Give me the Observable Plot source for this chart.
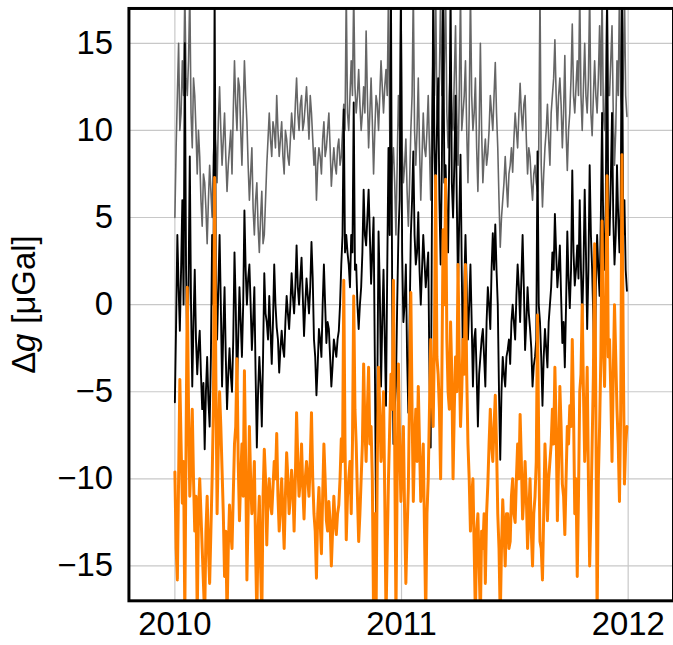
<!DOCTYPE html>
<html>
<head>
<meta charset="utf-8">
<script src="https://cdn.jsdelivr.net/npm/d3@7"></script>
<script src="https://cdn.jsdelivr.net/npm/@observablehq/plot@0.6"></script>
<style>
  html, body { margin: 0; padding: 0; background: #fff; overflow: hidden; }
  #chart svg { display: block; }
</style>
</head>
<body>
<div id="chart"></div>
<script>
// Sampling grid of the series (every 2 days from the start date)
const startDate = "2010-01-01";
const stepDays = 2;

// Δg values [μGal] (values beyond ±17 are clipped spikes)
const grayValues = [
  5,9, 12,15, 10,11, 14,12, 18,13,
  12,14, 18,11, 9,13, 12,10, 7.5,10,
  8.5,6, 4.5,7.5, 7,5.5, 3.5,6, 8,6.5,
  5,8.5, 10,9, 7,10.5, 12.5,10, 8,9.5,
  11,8.5, 6.5,8, 9,10, 7.5,11, 14,11.5,
  10,13, 12.5,10, 8,11, 14,12, 10.5,8,
  6,7.5, 9,5.5, 4,6, 7,4.5, 3,5,
  6.5,3.5, 4,6, 8,9.5, 11,9.5, 8.5,10.5,
  10,9, 12,10, 8.5,9.5, 10.5,8.5, 7.5,10,
  9.5,8.5, 8,9.5, 11,10, 9.5,11.5, 13,11,
  10,11.5, 12,10, 10.5,11.5, 12.5,11, 9.5,12,
  11,9.5, 8,9, 6,8, 9,8.5, 7.5,9.5,
  10.5,8.5, 9,10, 11,9, 6.8,8, 9,8,
  7.5,9, 9.5,8, 8.5,10, 11.5,10, 18,11,
  10,12, 14,12, 18,12.5, 11,12, 13.5,11.5,
  10,11, 12.5,11, 15.7,12, 9,11, 13,10.5,
  7.5,10, 12,11.5, 10,12, 14,12.5, 11,12.5,
  13.5,12, 18,10, 6,8, 9,7, 4,8,
  12,10, 18,9, 7,8, 9.5,6.5, 4.5,7,
  10,12, 18,10, 8,10, 13,9, 6,8.5,
  11,9, 8.5,10, 12,9, 6,11, 15,12,
  18,11, 10,13, 18,12, 12,14, 18,11,
  9,12, 14,11, 10,13, 16,11, 8,12,
  18,10, 11,12, 14,10, 7,11, 18,12,
  10,11, 13,9, 6.5,10, 15,10, 7,8.5,
  9.5,8, 8.7,10, 12,11, 10,12, 13.9,11,
  9,6, 3.3,5, 6,7, 8.5,7, 5.6,7.5,
  8,9, 7.6,9.5, 11,10, 9,11, 12.7,11,
  10,11.5, 12,9.5, 7.5,9, 8.5,7, 6,7.5,
  8,7, 6.5,9, 18,8, 5.6,7.5, 9,10,
  11.5,9.5, 8,11, 12,13, 15.2,12, 10,12,
  13,11.5, 9,11, 14.3,10, 7.7,10, 11,13,
  16.1,12, 11,12.5, 14,12, 18,12, 10,12.5,
  15,12, 11,13, 18,11, 9.7,12, 14,12,
  11,13, 16,12, 18,11, 10,13, 18,12,
  12,14, 16,11, 8,10, 14,12, 18,12,
  11,13, 18,12,
  10.8
];
const blackValues = [
  -5.6,-1, 4,1, -1.5,2, 6,0, 15,2,
  -3,1, 8.5,0, -4.7,-1, 2,-2, -4,-2.5,
  -1.5,-4, -6,-4.5, -8.3,-5, -3,-5.5, -7,-3,
  4,0, 18,2, -2,1, 4,0, -4.7,-1.5,
  1,-3, -6,-4, -2.5,-4, -5,-2, 3,0,
  -4.7,-2, 1,-1, -3,0, 5.4,2, 0,1.5,
  2.3,0, -2.6,-1, 1,-4, -8.2,-5, -3,-4.5,
  -7,-3, 1.8,-0.5, -1,-2, 0.5,-1.5, -3.4,-1,
  2.3,0, -1.3,-2, -3.9,-2.5, -1.5,-2.5, -3,-1,
  0.5,-0.5, -1.4,0, 1.8,0.5, -0.5,1, 3.4,1,
  0,1.5, 2.7,0.5, -1.8,0, 1.5,0.5, -0.5,1,
  3.6,1.5, -2,-3, -5.2,-3.5, -1.4,-2, -3,0,
  2.3,0, -2.2,-1, -1.4,-3, -4.7,-3.5, -2,-2.5,
  -3,-2, -1.5,0, 2.3,4, 11.2,3, 4,3,
  2.3,1, 4,3, 11.6,2, 2.3,0, -1.4,0,
  1,3, 6.6,4, 3.4,5, 6.6,4, 1.2,3,
  5,-3, -12.4,-5, 4.2,1, -4.7,-1, 2,-2,
  -5.8,2, 9,4, 18,0, -8,-6, -4.7,0,
  4,6, 18,3, -1,0, 2.3,-3, -6.2,-1,
  4,6, 8.8,4, 2.3,3, 5.3,2, 0,2,
  4,2.5, 1,2, 3,-4, -8.2,5, 18,9,
  6,10, 13,6, 2.3,8, 18,7, 8,5,
  3,9, 18,7, 5,8, 12,6, 1,5,
  8.6,2, -3.6,1, 4,1, -2,0, 2.3,-1,
  -4.7,-2, -1.4,-4, -7,-4, -3,-2, -1.4,-3,
  -4.7,-1, 1,0, -1.4,2, 4.1,2, 4.6,2,
  0,-5, -8.9,-5, -3,-4, -4.7,-3, -2.6,-2,
  -3.4,-1, 0,-1, -2,0.5, 2.3,1, -1,1.5,
  4,1, -2.6,-1, 1,-0.5, -1.4,-2.5, -4.7,-3.5,
  -3,-2, 8.8,0, -1,-3, -5.8,-3, -1.4,-2.5,
  -3.6,-1, 0,1, 3,2, 5.2,3, 1,2,
  3.4,0.5, -2.2,-1, -3.6,0, 4.2,1.5, -0.2,2,
  7.7,3, 1.1,2, 3.4,1.5, 6,2, -0.8,2,
  6.6,3, -1.4,2, 8,4, 2,-1, -5.8,1,
  4,2, 0.5,5, 11,4, 2,6, 18,5,
  4,7, 11,5, 2.3,4, 8,5, 3,6,
  18,4, 6,2,
  0.8
];
const orangeValues = [
  -9.6,-14, -15.8,-10, -4.3,-8, -11.4,-9, -18,-8,
  1,-6, -11,-9, -6,-10, -13,-11, -18,-12,
  -10,-12, -14,-16, -18,-13, -11,-14, -16,-13,
  -10,-6, 7.3,-4, -12,-8, -5,-7, -9.5,-12,
  -15.6,-13, -18,-14, -11.5,-13, -14,-11, -8,-7,
  -3.1,-9, -12.4,-10, -8,-11, -3.8,-9, -15.8,-12,
  -7,-10, -12,-11, -9,-14, -18,-13, -11,-15,
  -18,-11, -8.3,-10, -13.8,-11, -10,-11.5, -12,-10.5,
  -9,-10, -7.4,-11, -13,-11.5, -10,-12, -14,-11,
  -8.5,-10, -12,-11, -9.5,-10.5, -13,-10, -6.2,-9,
  -11,-10, -8,-10.5, -12.3,-10, -9,-10, -11,-9,
  -6.2,-10, -12,-13, -15.7,-12, -10.5,-12.5, -14.3,-11,
  -8,-10, -12.4,-13, -11.3,-12.5, -15,-13, -11,-12.5,
  -13.2,-12, -11.5,-10, -7.7,-9, 1.4,-8, -13.5,-11,
  -10,-9, -12,-8, 0.5,-6, -8,-11, -13.6,-12,
  -10,-8, -3.4,-7, -9,-6, -3.6,-8, -7,-10,
  -18,-12, -18,-9, -3.6,-6, -9,-8, -5,-11,
  -18,-14, -10,-7, -4,-6, 1.4,-8, -18,-10,
  -3.4,-8, -11.3,-9, -7,-12, -16,-13, -10.5,-5,
  0.7,-6, -11.3,-8, -6,-9, -4.7,-8, -11.3,-10,
  -8,-13, -18,-12, -10,-6, -2,-5, -7,-2,
  7.4,-3, -4,-6, -10,-4, 4.3,0, 7.2,-2,
  -5,-6, -1,-4, -10,-6, -3,-5, 2.3,-3,
  -7,-5, -2,-4, 2.3,-4, -8,-10, -13,-11,
  -10,-14, -18,-13, -12,-15, -18,-13, -14,-12,
  -16,-12, -10.3,-8, -6,-8, -9,-7, -5.2,-8,
  -12,-14, -18,-14, -11.2,-13, -15,-12, -12,-14,
  -13.6,-11, -10,-12, -12.5,-10, -8,-10, -6.3,-9,
  -12.3,-11, -9,-11, -14,-12, -10,-13, -15,-12,
  -11,-9, -0.6,-8, -13.6,-14, -15.8,-12, -8,-10,
  -12.4,-10, -9,-8, -6,-8, -3.6,-7, -12.4,-9,
  -4.7,-7, -10.3,-11, -13.2,-10, -7,-8, -5.8,-7,
  -2,-6, -12,-10, -15.6,-11, -5,-4, 0,-5,
  -9,-7, -3.6,-10, -15,-12, -8,-4, 3.5,-6,
  -18,-10, -7,-3, 4.8,-2, -4.7,0, 7.4,-3,
  -2,-5, -9,-4, 0,-3, -6,-8, -11.3,-6,
  8.6,-2, -10.3,-8,
  -7
];

// Axis ticks and labels
const yTicks = [-15, -10, -5, 0, 5, 10, 15];
const xTickYears = ["2010", "2011", "2012"];
const yLabelSymbol = "Δ";
const yLabelVar = "g";
const yLabelUnit = "[μGal]";

const start = new Date(startDate + "T00:00:00Z");
const toRows = (vals) => vals.map((v, i) => ({date: d3.utcDay.offset(start, i * stepDays), value: v}));
const grayRows = toRows(grayValues);
const blackRows = toRows(blackValues);
const orangeRows = toRows(orangeValues);
const xTicks = xTickYears.map(y => new Date(y + "-01-01T00:00:00Z"));

const fontFam = "'Liberation Sans', Arial, sans-serif";

const chart = Plot.plot({
  width: 676,
  height: 645,
  marginLeft: 129,
  marginRight: 0,
  marginTop: 8,
  marginBottom: 42,
  style: {fontFamily: fontFam, fontSize: "33px", background: "#fff", color: "#000"},
  x: {type: "utc", domain: [new Date("2009-10-19T00:00:00Z"), new Date("2012-03-14T00:00:00Z")]},
  y: {domain: [-17, 17]},
  marks: [
    Plot.gridY(yTicks, {stroke: "#c8c8c8", strokeOpacity: 1, strokeWidth: 1.2}),
    Plot.gridX(xTicks, {stroke: "#c8c8c8", strokeOpacity: 1, strokeWidth: 1.2}),
    Plot.line(grayRows, {x: "date", y: "value", stroke: "#666666", strokeWidth: 1.6, clip: true}),
    Plot.line(blackRows, {x: "date", y: "value", stroke: "#000", strokeWidth: 1.9, clip: true}),
    Plot.line(orangeRows, {x: "date", y: "value", stroke: "#ff8000", strokeWidth: 3, clip: true}),
    Plot.axisY(yTicks, {tickSize: 0, tickPadding: 16, fontSize: 33, label: null}),
    Plot.axisX(xTicks, {tickSize: 0, tickPadding: 11, fontSize: 33, label: null, tickFormat: d3.utcFormat("%Y")}),
    Plot.frame({stroke: "#000", strokeWidth: 3})
  ]
});

const svg = d3.select(chart);
const lab = svg.append("text")
  .attr("transform", "translate(35,306) rotate(-90)")
  .attr("text-anchor", "middle")
  .attr("font-family", fontFam)
  .attr("font-size", 33)
  .attr("fill", "#000");
lab.append("tspan").text(yLabelSymbol);
lab.append("tspan").attr("font-style", "italic").text(yLabelVar);
lab.append("tspan").attr("dx", 10).text(yLabelUnit);

document.getElementById("chart").appendChild(chart);
</script>
</body>
</html>
